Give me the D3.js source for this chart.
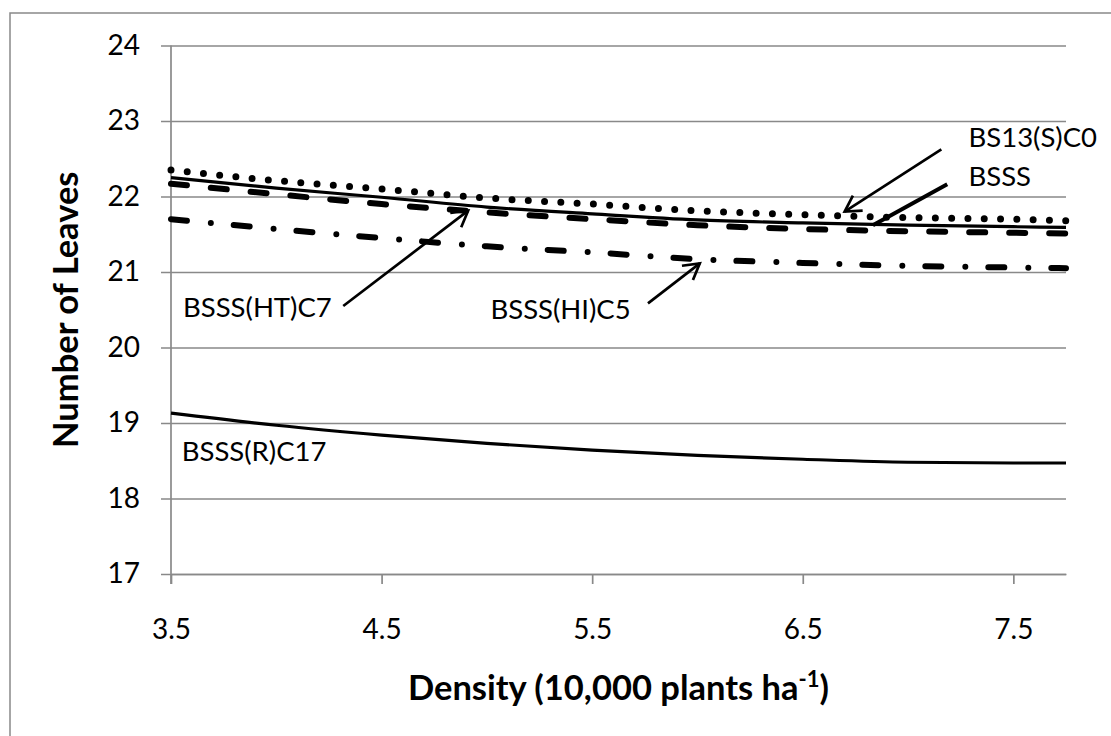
<!DOCTYPE html>
<html>
<head>
<meta charset="utf-8">
<script src="https://cdn.jsdelivr.net/npm/d3@7"></script>
<style>
  body { margin: 0; background: #fff; }
  svg { display: block; font-family: Lato, "Open Sans", sans-serif; }
</style>
</head>
<body>
<div id="chart"></div>
<script>
// densities (10,000 plants/ha)
const density = [3.5, 4.0, 4.5, 5.0, 5.5, 6.0, 6.5, 7.0, 7.5, 7.75];
// number of leaves per population
const bs13 = [22.35, 22.21, 22.10, 21.98, 21.90, 21.81, 21.76, 21.72, 21.70, 21.68];
const bsss = [22.25, 22.11, 21.99, 21.86, 21.77, 21.69, 21.65, 21.62, 21.60, 21.59];
const bsssHT = [22.17, 22.03, 21.90, 21.79, 21.70, 21.62, 21.57, 21.54, 21.52, 21.51];
const bsssHI = [21.70, 21.57, 21.45, 21.34, 21.26, 21.17, 21.12, 21.08, 21.06, 21.05];
const bsssR = [19.13, 18.97, 18.84, 18.73, 18.64, 18.57, 18.52, 18.48, 18.47, 18.47];
const xTicks = [3.5, 4.5, 5.5, 6.5, 7.5];
const yTicks = [17, 18, 19, 20, 21, 22, 23, 24];

// labels and arrows, in data units
const labels = [
  { text: "BS13(S)C0", x: 7.287, y: 22.656 },
  { text: "BSSS", x: 7.287, y: 22.139 },
  { text: "BSSS(HT)C7", x: 3.557, y: 20.404 },
  { text: "BSSS(HI)C5", x: 5.017, y: 20.374 },
  { text: "BSSS(R)C17", x: 3.551, y: 18.497 }
];
const arrows = [
  { x1: 7.158, y1: 22.625, x2: 6.699, y2: 21.80, head: true, w: 2.7 },
  { x1: 7.186, y1: 22.162, x2: 6.833, y2: 21.62, head: false, w: 4 },
  { x1: 4.318, y1: 20.55, x2: 4.911, y2: 21.812, head: true, w: 2.7 },
  { x1: 5.765, y1: 20.585, x2: 6.011, y2: 21.115, head: true, w: 2.7 }
];

const width = 1111, height = 736;
const margins = { top: 45.5, left: 171, bottom: 162, right: 45 };
const gray = "#898989";
const font = "Lato, 'Open Sans', sans-serif";

const svg = d3.select("#chart").append("svg")
  .attr("width", width).attr("height", height);

// outer chart border (only left/top visible in frame)
svg.append("rect").attr("x", 10).attr("y", 13)
  .attr("width", 1300).attr("height", 900)
  .attr("fill", "none").attr("stroke", gray).attr("stroke-width", 1.5);

const xScale = d3.scaleLinear().domain([3.5, 7.75])
  .range([margins.left, width - margins.right]);
const yScale = d3.scaleLinear().domain([17, 24])
  .range([height - margins.bottom, margins.top]);

// horizontal gridlines + y ticks
const yAxis = svg.append("g")
  .attr("transform", "translate(" + margins.left + ",0)")
  .call(d3.axisLeft(yScale).tickValues(yTicks)
    .tickSize(-(width - margins.right - margins.left)).tickPadding(31)
    .tickFormat(d3.format("d")));
yAxis.attr("font-family", font);
yAxis.select(".domain").remove();
yAxis.selectAll("line").attr("stroke", gray).attr("stroke-width", 1.7)
  .attr("x1", -10);
yAxis.selectAll("text").style("font-size", "28px").attr("fill", "#000");

// x axis
const xAxis = svg.append("g")
  .attr("transform", "translate(0," + yScale(17) + ")")
  .call(d3.axisBottom(xScale).tickValues(xTicks).tickSize(10).tickPadding(35)
    .tickSizeOuter(0).tickFormat(d3.format(".1f")));
xAxis.attr("font-family", font);
xAxis.select(".domain").attr("stroke", gray).attr("stroke-width", 1.7);
xAxis.selectAll("line").attr("stroke", gray).attr("stroke-width", 1.7);
xAxis.selectAll("text").style("font-size", "28px").attr("fill", "#000");

// y axis line
svg.append("line")
  .attr("x1", margins.left).attr("x2", margins.left)
  .attr("y1", yScale(24)).attr("y2", yScale(17) + 10)
  .attr("stroke", gray).attr("stroke-width", 1.7);

// series
const series = [
  { values: bs13, width: 7, dash: "0 16.3" },
  { values: bsssHT, width: 6, dash: "16 24" },
  { values: bsssHI, width: 6, dash: "16 24 0 23" },
  { values: bsss, width: 3.2, dash: null },
  { values: bsssR, width: 3.2, dash: null }
];
const lineGen = d3.line()
  .x((d, i) => xScale(density[i]))
  .y(d => yScale(d))
  .curve(d3.curveMonotoneX);
svg.selectAll("path.series").data(series).join("path")
  .attr("class", "series")
  .attr("fill", "none").attr("stroke", "#000")
  .attr("stroke-width", d => d.width)
  .attr("stroke-linecap", d => d.dash ? "round" : "butt")
  .attr("stroke-dasharray", d => d.dash)
  .attr("d", d => lineGen(d.values));

// arrows
arrows.forEach(a => {
  const x1 = xScale(a.x1), y1 = yScale(a.y1), x2 = xScale(a.x2), y2 = yScale(a.y2);
  svg.append("line").attr("x1", x1).attr("y1", y1).attr("x2", x2).attr("y2", y2)
    .attr("stroke", "#000").attr("stroke-width", a.w);
  if (a.head) {
    const ang = Math.atan2(y2 - y1, x2 - x1), len = 18, spread = Math.PI / 6;
    const p = d3.path();
    p.moveTo(x2 - len * Math.cos(ang - spread), y2 - len * Math.sin(ang - spread));
    p.lineTo(x2, y2);
    p.lineTo(x2 - len * Math.cos(ang + spread), y2 - len * Math.sin(ang + spread));
    svg.append("path").attr("d", p.toString()).attr("fill", "none")
      .attr("stroke", "#000").attr("stroke-width", a.w);
  }
});

// labels
svg.selectAll("text.lab").data(labels).join("text")
  .attr("class", "lab")
  .attr("x", d => xScale(d.x)).attr("y", d => yScale(d.y))
  .style("font-size", "27.5px").text(d => d.text);

// axis titles
const xTitle = svg.append("text")
  .attr("x", (xScale.range()[0] + xScale.range()[1]) / 2).attr("y", 700)
  .attr("text-anchor", "middle").style("font-size", "34.5px").style("font-weight", "bold");
xTitle.append("tspan").text("Density (10,000 plants ha");
xTitle.append("tspan").attr("dy", -13).style("font-size", "22px").text("-1");
xTitle.append("tspan").attr("dy", 13).text(")");

svg.append("text")
  .attr("transform", "translate(78," + (yScale(20.5)) + ") rotate(-90)")
  .attr("text-anchor", "middle").style("font-size", "34.5px").style("font-weight", "bold")
  .text("Number of Leaves");
</script>
</body>
</html>
